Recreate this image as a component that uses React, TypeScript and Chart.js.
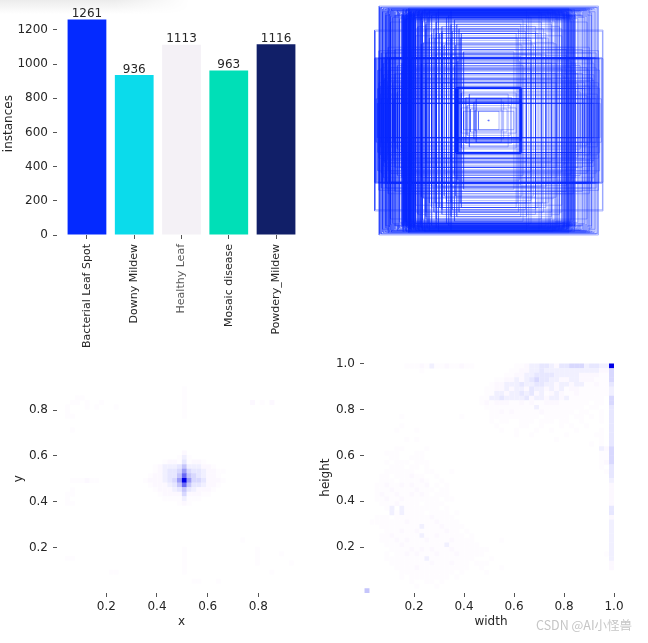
import React, { useEffect, useRef } from 'react';
import { Chart, registerables } from 'chart.js';

Chart.register(...registerables);

const FONT = '"DejaVu Sans"';
const TEXT = '#262626';
const TICK = '#555555';

// instances per class
const classNames = ['Bacterial Leaf Spot', 'Downy Mildew', 'Healthy Leaf', 'Mosaic disease', 'Powdery_Mildew'];
const classCounts = [1261, 936, 1113, 963, 1116];
const classColors = ['#042aff', '#0bdbeb', '#f4f1f6', '#00dfb7', '#111f68'];
const classLabelColors = ['#262626', '#262626', '#5a5a5a', '#262626', '#262626'];
const countTicks = [0, 200, 400, 600, 800, 1000, 1200];

// box sizes, all boxes sit on the image centre
const boxWidths = [
  .70, .62, .74, .58, .73, .66, .78, .70, .60, .76, .69, .67, .82, .64, .72, .78, .56, .72, .86, .80,
  .65, .69, .82, .72, .60, .75, .84, .68, .58, .74, .88, .76, .66, .71, .62, .70, .64, .75, .72, .86,
  .70, .54, .68, .74, .66, .90, .69, .73, .67, .52,
  .69, .71, .66, .74, .68, .72, .70, .67, .73, .75, .65, .71, .69, .74, .66, .72, .70, .68, .73, .75,
  .96, .955, .95, .94, .93, .92, .91, .90, .89, .88, .87, .86, .85, .84, .93, .90, .87, .83, .81, .79,
  1.0, .985, .97, .955, .94, .925, .91, .895, .88, .865,
  .99, .96, .93, .90, .87, .84, 1.0, .995,
  .975, .96, .92, .88, .84, .80, .985, .94, .89, .83, .97, .90, .82, .76, .95, .92, .88, .95, .89, .91,
  .285, .28, .285, .275, .28, .29, .28, .285, .27, .28, .285, .28, .29, .275, .28, .285, .27, .28, .285, .29,
  .28, .285, .275, .28, .285, .28, .27, .29, .28, .285,
  .09, .12, .16, .19, .22, .24, .13, .11, .20, .24, .17, .005,
  .33, .37, .41, .46, .50, .55, .59, .64, .68, .33, .41, .50, .59, .68, .37, .46, .55, .64, .33, .41,
  .50, .59, .37, .46, .55, .64, .41, .50, .59, .37,
  .33, .37, .41, .46, .50, .55, .59, .64, .33, .41, .50, .59, .37, .46, .55, .64, .44, .52, .30, .48,
  .35, .57, .28, .43, .61, .39, .53, .32, .47, .62,
  .84, .90, .78, .86, .92, .80, .94, .88, .96, .82, .76, .90, .70, .94, .86, .74, .97, .72, .88, .80,
  .92, .68, .84, .76, .96, .66, .90, .78, .72, .82,
  .22, .25, .27, .29, .24, .28, .26, .30,
];
const boxHeights = [
  .93, .95, .90, .96, .92, .94, .89, .97, .91, .93, .95, .90, .92, .96, .88, .94, .97, .93, .91, .96,
  .94, .92, .95, .89, .93, .97, .90, .95, .87, .94, .96, .91, .92, .94, .93, .98, .90, .95, .97, .86,
  .96, .94, .93, .91, .95, .92, .97, .90, .94, .96,
  .90, .92, .93, .88, .95, .91, .94, .89, .96, .92, .93, .90, .95, .91, .94, .87, .93, .96, .89, .92,
  1.0, .99, .985, .99, .975, .98, .97, .975, .965, .98, .97, .96, .975, .965, .95, .94, .93, .96, .92, .95,
  .54, .54, .54, .54, .545, .54, .54, .545, .54, .54,
  .55, .55, .55, .55, .55, .55, .79, .78,
  .15, .15, .15, .15, .15, .15, .19, .19, .19, .19, .28, .28, .28, .28, .30, .40, .44, .23, .34, .37,
  .28, .285, .15, .16, .19, .285, .275, .18, .29, .15, .28, .17, .16, .285, .19, .15, .28, .29, .17, .28,
  .29, .15, .28, .16, .285, .19, .29, .15, .17, .28,
  .08, .09, .10, .13, .08, .11, .16, .19, .20, .24, .23, .005,
  .36, .45, .33, .58, .41, .50, .67, .36, .45, .72, .58, .33, .41, .62, .50, .76, .36, .80, .58, .67,
  .72, .50, .62, .41, .84, .45, .76, .58, .33, .72,
  .84, .90, .78, .86, .92, .80, .94, .88, .96, .82, .76, .90, .70, .94, .86, .74, .97, .72, .88, .80,
  .92, .68, .84, .76, .96, .66, .90, .78, .72, .82,
  .33, .37, .41, .46, .50, .25, .59, .64, .33, .41, .50, .59, .37, .46, .22, .64, .44, .52, .30, .48,
  .35, .57, .28, .43, .61, .39, .53, .32, .47, .62,
  .60, .72, .52, .66, .76, .56, .80, .48,
];

// 2d histogram of box centres, shade level per bin, top row first
const centerXTicks = [0.2, 0.4, 0.6, 0.8];
const centerYTicks = [0.2, 0.4, 0.6, 0.8];
const centerBins = [
  '0000000000 0000000000 0000000000 0000000000 0000000000',
  '0000000000 0000000000 0000000000 0000000000 0000000000',
  '0000000000 0000000000 0000000000 0000000000 0000000000',
  '0000000000 0000000000 0000000000 0000000000 0000000000',
  '0000000000 0000000000 0000000000 0000000000 0000000000',
  '0000000000 0000000000 0000010000 0000000000 0000000000',
  '0000000000 0000000000 0000010000 0000000000 0000000000',
  '0001100000 0000000000 0000010000 0000000000 0000000000',
  '0011010010 0000000000 0000010000 0000000002 0102000000',
  '0100010100 0100000000 0000010000 0000000000 0000000000',
  '0100000000 0000000000 0000010000 0000000000 0000000000',
  '0110000000 0000000000 0000010000 0000000000 0000000000',
  '0000000000 0000000000 0000000000 0000000000 0000000000',
  '0000000000 0000000000 0000000000 0000000000 0000000000',
  '0010000000 0000000000 0000000000 0000000000 0000000000',
  '0000000000 0000000000 0000000000 0000000000 0000000000',
  '0000000000 0000000000 0000000000 0000000000 0000000000',
  '0000000000 0000000000 0000000000 0000000000 0000000000',
  '0000000000 0000000000 0000000000 0000000000 0000000000',
  '0000000000 0000000000 0000020000 0000000000 0000000000',
  '0000000000 0000000000 0000131000 0000000000 0000000000',
  '0000000000 0000000000 0122141221 0000000000 0000000000',
  '0000000000 0000000001 2333463332 2100000000 0000000000',
  '0000000000 0000000001 2344575443 2211000000 0000000000',
  '0000000000 0000000012 2344686543 2210000000 0000000000',
  '0011121100 0000000122 2345797554 2221000000 0000000000',
  '0000000000 0000000012 2234686443 2210000000 0000000000',
  '0010000000 0000000001 2223464322 2100000000 0000000000',
  '0110000000 0000000000 1222252221 1000000000 0000000000',
  '0100000000 0000000000 0111131110 0000000000 0000000000',
  '0110000000 0000000000 0000121000 0000000000 0000000000',
  '0000000000 0000000000 0000000000 0000000000 0000000000',
  '0000000000 0000000000 0000000000 0000000000 0000000000',
  '0000000000 0000000000 0000000000 0000000000 0000000000',
  '0000000000 0000000000 0000000000 0000000000 0000000000',
  '0000000000 0000000000 0000000000 0000000000 0000000000',
  '0000000000 0000000000 0000000000 0000000000 0000000000',
  '0000000000 0000000000 0000000000 0000000000 0000000000',
  '0000000000 0000000000 0000000000 0000000100 0000000000',
  '0000000000 0000000000 0000000000 0000000000 0000000000',
  '0000000000 0000000000 0000010000 0000000000 1000000000',
  '0000000000 0000000000 0000010000 0000000000 1000010000',
  '0110000000 0000000000 0000010000 0000000000 1000000000',
  '0000000000 0000000000 0000010000 0000000000 1000000100',
  '0000000000 0000000000 0000010000 0000000000 0000000000',
  '0000000000 1100000000 0000010000 0000000000 0001000000',
  '0000000000 0000000000 0000000000 0000000000 0000000000',
  '0000000000 0000000000 0000000110 0010000000 0000000000',
  '0000000000 0000000000 0000000000 0000000000 0000000000',
  '0000000000 0000000000 0000000000 0000000000 0000000000',
];

// 2d histogram of box sizes, same layout
const sizeXTicks = [0.2, 0.4, 0.6, 0.8, 1.0];
const sizeYTicks = [0.2, 0.4, 0.6, 0.8, 1.0];
const sizeBins = [
  '0000000011 1213112112 1100000000 1123344324 4555344339',
  '0000000000 0100000000 0000000001 1223343333 3333333225',
  '0000000000 0000000000 0000000011 2233444433 3332222115',
  '0000000000 0000000000 0000001122 3234544332 2332221115',
  '0000000000 0000000000 0000012233 3433443323 3233112114',
  '0000000000 0000000000 0000112232 3324332323 1221111113',
  '0000000000 0000000000 0000113323 3434231232 1121111113',
  '0000000000 0000000000 0001133433 3342332332 3111111105',
  '0000000000 0000000000 0001212221 1212112221 1111101105',
  '0000000000 0000000000 0000111111 1111311111 1111011004',
  '0000000000 0000000000 0000011212 1111121111 1101100104',
  '0000000100 0000000001 0000011111 1111101111 1011010104',
  '0000000000 0000000000 0000010110 0111011101 1001000104',
  '0000000100 0000000000 0000001000 0110010001 0100100004',
  '0000001000 1000000000 0000000100 1000100100 0010000104',
  '0000000000 0000000000 0000000000 1001000000 1000001104',
  '0000000010 1000000000 0000000000 0000000010 0000000104',
  '0000000000 0000000000 0000000000 0000000000 0000010104',
  '0000001100 0010000000 0000000000 0000000000 0000000325',
  '0000111000 1100000000 0000000000 0000000000 0000000115',
  '0000011001 1100000000 0000000000 0000000000 0000000115',
  '0000101110 1110000000 0000000000 0000000000 0000000125',
  '0000011101 1010000000 0000000000 0000000000 0000000104',
  '0000111111 0011000100 0000000000 0000000000 0000000014',
  '0001101112 1100100000 0000000000 0000000000 0000000004',
  '0001110111 1210010000 0000000000 0000000000 0000000003',
  '0011211212 1120101000 0000000000 0000000000 0000000002',
  '0011121111 2111011000 0000000000 0000000000 0000000002',
  '0012112112 1210111000 0000000000 0000000000 0000000002',
  '0011211211 1111101100 0000000000 0000000000 0000000002',
  '0001112111 1011110000 0000000000 0000000000 0000000002',
  '0000130311 1111101000 0000000000 0000000000 0000000004',
  '0000031311 1101111010 0000000000 0000000000 0000000004',
  '0011101111 1112111100 0000000000 0000000000 0000000002',
  '0111111121 1111211110 0000000000 0000000000 0000000003',
  '0001111111 1311121111 0000000000 0000000000 0000000003',
  '0000111211 2111112110 1000000000 0000000000 0000000003',
  '0001121111 1311211111 0100000000 0000000000 0000000003',
  '0001112121 1121111211 1100000100 0000000000 0000000003',
  '0000111211 1111113111 1110000000 0000000000 0000000003',
  '0000011112 1212111211 1111100000 0000000000 0000000003',
  '0000101121 2111211121 1111000000 0000000000 0000000013',
  '0000111111 1131111111 1100010000 0000000000 0000000003',
  '0000011111 1112111211 1011100000 0000000000 0000000002',
  '0000001111 2111111111 1001000100 0000000000 0000000002',
  '0000000111 1111111101 0000100000 0000000000 0000000000',
  '0000000101 1111111010 0000000000 0000000000 0000000000',
  '0000000001 0011010000 0000000000 0000000000 0000000000',
  '0000000000 1000100000 0000000000 0000000000 0000000000',
  '6000000000 0000000000 0000000000 0000000000 0000000000',
];

// shade level to colour
const shades = ['#ffffff', '#fefcff', '#fcf8ff', '#f1f0ff', '#e7e7ff', '#d8d8fe', '#c5c5fb', '#9c9cf8', '#6a6af5', '#0000e6'];

const binPoints = (bins: string[], x0: number, dx: number, y0: number, dy: number) => {
  const points: { x: number; y: number; level: number }[] = [];
  bins.forEach((row, r) => {
    row.replace(/ /g, '').split('').forEach((ch, c) => {
      if (ch !== '0') points.push({ x: x0 + c * dx, y: y0 - r * dy, level: Number(ch) });
    });
  });
  return points;
};

const plugins = { legend: { display: false }, tooltip: { enabled: false } };

const barLabels = {
  id: 'barLabels',
  afterDatasetsDraw(chart: any) {
    const { ctx } = chart;
    ctx.save();
    ctx.font = `12px ${FONT}`;
    ctx.fillStyle = TEXT;
    ctx.textAlign = 'center';
    ctx.textBaseline = 'bottom';
    chart.getDatasetMeta(0).data.forEach((bar: any, i: number) => {
      ctx.fillText(String(classCounts[i]), bar.x, bar.y + 0.5);
    });
    ctx.restore();
  },
};

// spine-less axis with short tick marks, fixed thickness so plots line up
const axis = (side: 'x' | 'y', size: number, min: number, max: number, ticks: number[], title: string, titlePad: number, digits: number) => ({
  type: 'linear',
  min,
  max,
  offset: false,
  afterFit: (s: any) => {
    if (side === 'x') s.height = size;
    else s.width = size;
  },
  afterBuildTicks: (s: any) => {
    s.ticks = ticks.map((value) => ({ value }));
  },
  border: { display: false },
  grid: { offset: false, drawOnChartArea: false, drawTicks: true, tickLength: 4, tickColor: TICK },
  ticks: {
    autoSkip: false,
    color: TEXT,
    padding: side === 'x' ? 3 : 5,
    font: { family: FONT, size: 12 },
    callback: (v: number) => v.toFixed(digits),
  },
  title: { display: !!title, text: title, color: TEXT, padding: { top: titlePad, bottom: 1 }, font: { family: FONT, size: 12 } },
});

const barConfig = () => ({
  type: 'bar',
  data: {
    datasets: [{
      data: classCounts.map((y, x) => ({ x, y })),
      backgroundColor: classColors,
      barPercentage: 0.82,
      categoryPercentage: 1,
    }],
  },
  options: {
    responsive: false,
    animation: false,
    layout: { padding: { top: 10, right: 18 } },
    plugins,
    scales: {
      x: {
        ...axis('x', 117, -0.634, 4.634, [0, 1, 2, 3, 4], '', 0, 0),
        ticks: {
          autoSkip: false,
          minRotation: 90,
          maxRotation: 90,
          padding: 5,
          font: { family: FONT, size: 11 },
          color: (c: any) => classLabelColors[c.index],
          callback: (v: number) => classNames[v],
        },
      },
      y: axis('y', 57, 0, 1304, countTicks, 'instances', 1.5, 0),
    },
  },
  plugins: [barLabels],
});

const boxConfig = () => ({
  type: 'scatter',
  data: {
    datasets: boxWidths.map((w, i) => {
      const h = boxHeights[i];
      return {
        data: [
          { x: 0.5 - w / 2, y: 0.5 - h / 2 },
          { x: 0.5 + w / 2, y: 0.5 - h / 2 },
          { x: 0.5 + w / 2, y: 0.5 + h / 2 },
          { x: 0.5 - w / 2, y: 0.5 + h / 2 },
          { x: 0.5 - w / 2, y: 0.5 - h / 2 },
        ],
        showLine: true,
        pointRadius: 0,
        borderWidth: 1,
        borderColor: 'rgba(8, 40, 255, 0.32)',
        clip: false,
      };
    }),
  },
  options: {
    responsive: false,
    animation: false,
    layout: { padding: { left: 14.5, right: 17, top: 6, bottom: 10 } },
    plugins,
    scales: {
      x: { type: 'linear', min: 0, max: 1, display: false },
      y: { type: 'linear', min: 0, max: 1, display: false },
    },
  },
});

const heatConfig = (points: any[], x: any, y: any) => ({
  type: 'scatter',
  data: {
    datasets: [{
      data: points,
      pointStyle: 'rect',
      pointRadius: 3.5,
      pointBorderWidth: 0,
      pointBackgroundColor: (c: any) => shades[c.raw.level],
    }],
  },
  options: { responsive: false, animation: false, layout: { padding: { top: 11, right: 14 } }, plugins, scales: { x, y } },
});

const centerConfig = () => heatConfig(
  binPoints(centerBins, 0.028, 0.0192, 0.993, 0.02),
  axis('x', 37, 0.0055, 0.988, centerXTicks, 'x', 0, 1),
  axis('y', 57, 0.002, 1.0, centerYTicks, 'y', 12, 1),
);

const sizeConfig = () => heatConfig(
  binPoints(sizeBins, 0.012, 0.01996, 0.99, 0.02),
  axis('x', 37, 0, 1.016, sizeXTicks, 'width', 0, 1),
  axis('y', 45, 0, 1.007, sizeYTicks, 'height', 0, 1),
);

const Panel = ({ left, top, width, height, config }: any) => {
  const canvasRef = useRef<HTMLCanvasElement>(null);

  useEffect(() => {
    if (!canvasRef.current) return;
    const chart = new Chart(canvasRef.current, config());
    return () => {
      chart.destroy();
    };
  }, [config]);

  return (
    <canvas
      ref={canvasRef}
      width={width}
      height={height}
      style={{ position: 'absolute', left, top, width, height, filter: 'blur(0.45px)' }}
    />
  );
};

export default function App() {
  return (
    <div style={{ position: 'absolute', left: 0, top: 0, width: 648, height: 643, background: '#fff', overflow: 'hidden' }}>
      <div
        style={{
          position: 'absolute',
          left: 0,
          top: 0,
          width: 190,
          height: 14,
          background: 'linear-gradient(to bottom, #ececec, #ffffff)',
          WebkitMaskImage: 'linear-gradient(to right, #000 60%, transparent)',
        }}
      />
      <Panel left={0} top={0} width={324} height={352} config={barConfig} />
      <Panel left={360} top={0} width={260} height={245} config={boxConfig} />
      <Panel left={0} top={352} width={320} height={278} config={centerConfig} />
      <Panel left={319} top={350} width={313} height={280} config={sizeConfig} />
      <div
        style={{
          position: 'absolute',
          left: 536,
          top: 615,
          fontFamily: '"Noto Sans CJK SC", "Noto Sans"',
          fontSize: 12.5,
          color: '#c6c6c6',
          whiteSpace: 'nowrap',
        }}
      >
        CSDN @AI小怪兽
      </div>
    </div>
  );
}
